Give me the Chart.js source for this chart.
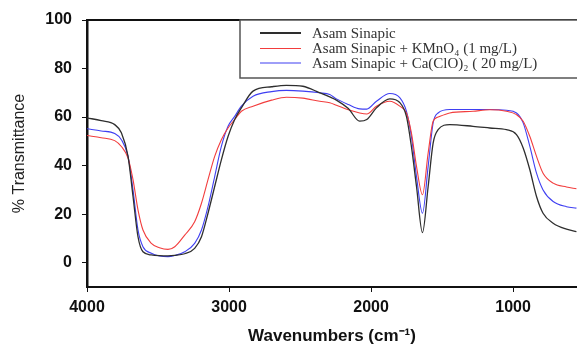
<!DOCTYPE html>
<html>
<head>
<meta charset="utf-8">
<script src="https://cdn.jsdelivr.net/npm/chart.js@4.4.1/dist/chart.umd.min.js"></script>
<style>
    html, body { margin: 0; padding: 0; background: #fff; }
    #wrap { width: 577px; height: 348px; position: relative; }
</style>
</head>
<body>
<div id="wrap"><canvas id="ftir"></canvas></div>
<script>
// wavenumbers (cm-1)
const wavenumbers = [4000, 3900, 3805, 3758, 3711, 3676, 3641, 3606, 3547, 3490, 3430, 3382, 3312, 3242, 3194, 3148, 3101, 3054, 3007, 2960, 2913, 2831, 2700, 2596, 2480, 2361, 2291, 2244, 2160, 2080, 2030, 1962, 1868, 1798, 1751, 1716, 1680, 1638, 1598, 1563, 1528, 1446, 1282, 1164, 1047, 976, 929, 882, 835, 789, 718, 624, 554];

const sinapic = [59.7, 58.5, 56.9, 53.5, 43.8, 27.3, 10.7, 4.5, 3.2, 2.9, 2.8, 3.0, 3.7, 5.9, 10.7, 20.4, 31.4, 42.4, 52, 59, 63.8, 70.7, 72.5, 73.1, 72.7, 70.0, 68.3, 67.0, 63.5, 58.3, 59, 63.8, 67.5, 66, 60.3, 47.9, 31.4, 12.4, 31.4, 49.3, 54.8, 56.9, 56.2, 55.5, 54.8, 52.8, 47.3, 38.3, 27.3, 20.4, 16.3, 13.8, 12.8];
const sinapicKMnO4 = [52.4, 51.5, 50.3, 47.9, 43.1, 34.2, 21.8, 13.5, 8, 6.2, 5.5, 6.6, 11.4, 16.9, 24.5, 34.2, 43.8, 50.7, 55.5, 59, 62.4, 64.5, 67, 68.2, 67.8, 66.5, 65.9, 64.9, 63, 61.7, 61.3, 64.5, 66.5, 64.5, 61.7, 53.5, 39.7, 28, 45.2, 58.3, 60, 61.7, 62.4, 63, 62.4, 61, 58.3, 52, 43.8, 36.9, 32.8, 31.2, 30.5];
const sinapicCaClO = [55.2, 54.3, 53.2, 50.7, 43.8, 30, 13.5, 6.6, 3.9, 2.8, 2.5, 3.0, 4.5, 8, 13.5, 23.1, 35.5, 47.9, 56.2, 60.3, 64.5, 68.6, 70.5, 71, 70.7, 70, 69.3, 67.5, 65.2, 63.4, 63.3, 66.5, 69.7, 68, 62.4, 52, 35.5, 20.4, 39.7, 57.6, 61.7, 63.1, 63.1, 63.1, 62.8, 61.7, 57.6, 47.9, 36.9, 30, 25.2, 23.1, 22.5];

const seriesNames = ['Asam Sinapic', 'Asam Sinapic + KMnO\u2084 (1 mg/L)', 'Asam Sinapic + Ca(ClO)\u2082 ( 20 mg/L)'];
const xTicks = [4000, 3000, 2000, 1000];
const yTicks = [0, 20, 40, 60, 80, 100];

const toPoints = ys => ys.map((y, i) => ({ x: wavenumbers[i], y: y }));

// box legend in the top right corner, serif text like the original
const boxLegend = {
    id: 'boxLegend',
    afterDraw(chart) {
        const ctx = chart.ctx;
        const area = chart.chartArea;
        ctx.save();
        // top frame line
        ctx.strokeStyle = '#111';
        ctx.lineWidth = 2;
        ctx.beginPath();
        ctx.moveTo(area.left - 1, area.top);
        ctx.lineTo(area.right + 2, area.top);
        ctx.stroke();

        ctx.fillStyle = '#fff';
        ctx.fillRect(240, area.top, 400, 58);
        ctx.strokeStyle = '#555';
        ctx.lineWidth = 1.5;
        ctx.strokeRect(240, area.top, 400, 58);

        const rows = [33, 48.5, 63];
        ctx.font = '15px "Liberation Serif", "DejaVu Serif", serif';
        ctx.textBaseline = 'middle';
        chart.data.datasets.forEach((ds, i) => {
            ctx.strokeStyle = ds.borderColor;
            ctx.lineWidth = i === 0 ? 2 : 1.2;
            ctx.beginPath();
            ctx.moveTo(260, rows[i]);
            ctx.lineTo(301, rows[i]);
            ctx.stroke();
            ctx.fillStyle = '#333';
            ctx.fillText(ds.label, 312, rows[i] + 1);
        });
        ctx.restore();
    }
};

Chart.defaults.font.family = '"Liberation Sans", Arial, sans-serif';
Chart.defaults.color = '#111';

new Chart(document.getElementById('ftir'), {
    type: 'line',
    data: {
        datasets: [
            { label: seriesNames[0], data: toPoints(sinapic), borderColor: '#2e2e2e', borderWidth: 1.3 },
            { label: seriesNames[1], data: toPoints(sinapicKMnO4), borderColor: '#f23d3d', borderWidth: 1.1 },
            { label: seriesNames[2], data: toPoints(sinapicCaClO), borderColor: '#3f3ff2', borderWidth: 1.1 }
        ]
    },
    options: {
        responsive: true,
        maintainAspectRatio: false,
        animation: false,
        layout: { padding: { top: 20, left: 0, right: 0, bottom: 0 } },
        elements: {
            point: { radius: 0 },
            line: { cubicInterpolationMode: 'monotone', fill: false }
        },
        plugins: {
            legend: { display: false },
            tooltip: { enabled: false }
        },
        scales: {
            x: {
                type: 'linear',
                reverse: true,
                min: 550,
                max: 4000,
                afterBuildTicks: axis => { axis.ticks = xTicks.map(v => ({ value: v })); },
                afterFit: axis => { axis.height = 61; },
                grid: { drawOnChartArea: false, drawTicks: true, tickLength: 5, color: '#111' },
                border: { display: true, color: '#111', width: 2 },
                ticks: { padding: 6, font: { size: 16, weight: 'bold' }, color: '#111', callback: v => String(v) },
                title: {
                    display: true,
                    text: 'Wavenumbers (cm\u207B\u00B9)',
                    font: { size: 17, weight: 'bold' },
                    color: '#111',
                    padding: { top: 0, bottom: 1 }
                }
            },
            y: {
                min: -10,
                max: 100,
                afterBuildTicks: axis => { axis.ticks = yTicks.map(v => ({ value: v })); },
                afterFit: axis => { axis.width = 87; },
                grid: { drawOnChartArea: false, drawTicks: true, tickLength: 5, color: '#111' },
                border: { display: true, color: '#111', width: 2.5 },
                ticks: { padding: 10, font: { size: 16, weight: 'bold' }, color: '#111' },
                title: {
                    display: true,
                    text: '% Transmittance',
                    font: { size: 16 },
                    color: '#222',
                    padding: { top: 10, bottom: 0 }
                }
            }
        }
    },
    plugins: [boxLegend]
});
</script>
</body>
</html>
